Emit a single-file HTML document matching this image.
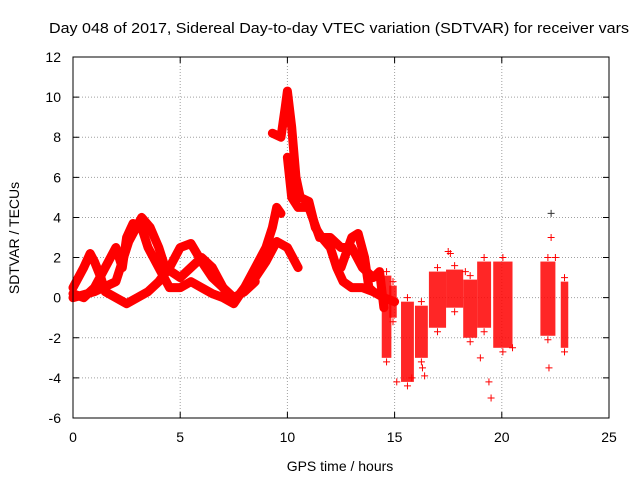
<!DOCTYPE html>
<html><head><meta charset="utf-8"><style>
body{margin:0;background:#fff}
svg{display:block;font-family:"Liberation Sans",sans-serif}
</style></head><body>
<svg id="chart" width="640" height="480">
<rect width="640" height="480" fill="#fff"/>
<text x="339" y="33" font-size="15" text-anchor="middle" textLength="580" lengthAdjust="spacingAndGlyphs">Day 048 of 2017, Sidereal Day-to-day VTEC variation (SDTVAR) for receiver vars</text>
<text x="340" y="471" font-size="14" text-anchor="middle">GPS time / hours</text>
<text x="19" y="238" font-size="14" text-anchor="middle" transform="rotate(-90 19 238)">SDTVAR / TECUs</text>
<g id="grid"></g><g id="marks"></g>
<rect x="73" y="57" width="536" height="361" fill="none" stroke="#000"/>
</svg>
<script>
const xTicks=[0,5,10,15,20,25];
const yTicks=[-6,-4,-2,0,2,4,6,8,10,12];
const track1=[[0,0.5],[0.5,1.5],[0.8,2.2],[1,1.8],[1.3,1],[1.5,0.3],[2,0],[2.5,-0.3],[3,0],[3.5,0.3],[4,0.8],[4.5,1.5],[5,2.5],[5.5,2.7],[6,1.8],[6.5,1],[7,0.5],[7.5,-0.2],[8,0.5],[8.5,1.5],[9,2.5],[9.3,3.5],[9.5,4.5],[9.7,4.2]];
const track2=[[0,0.2],[0.5,0],[1,0.5],[1.5,1.5],[2,2.5],[2.3,1.5],[2.5,3],[2.8,3.7],[3.2,3.5],[3.5,2.5],[4,1.5],[4.5,0.5],[5,0.5],[5.5,0.8],[6,0.5],[6.5,0.2],[7,0],[7.5,-0.3],[8,0.5],[8.5,1],[9,1.8],[9.5,2.8],[10,2.5],[10.5,1.5]];
const track3=[[0,0],[1,0.3],[2,0.8],[2.6,2.8],[3.2,4],[3.6,3.5],[4,2.5],[4.3,1.5],[5,1],[5.5,1.5],[6,2],[6.5,1.5],[7,0.5],[7.5,0],[8,0.3],[8.5,0.8]];
const track4=[[9.3,8.2],[9.7,8],[9.9,9.5],[10,10.3],[10.2,8.5],[10.4,6],[10.6,5],[11,4.8],[11.3,3.5],[11.6,3],[12,2.5],[12.3,1.5],[12.6,0.8],[13,0.5],[13.5,0.5],[14,0.3],[14.5,0],[15,-0.2]];
const track5=[[10,7],[10.2,5],[10.5,4.5],[11,4.5],[11.5,3],[12,3],[12.5,2.5],[13,2.5],[13.5,1.5],[14,1],[14.3,1.3],[14.5,-0.5]];
const track6=[[12.5,1.5],[13,3],[13.3,3.2],[13.6,2],[13.8,0.5],[14,0.3]];
const bandStart=[14.4,14.75,15.3,15.95,16.6,17.4,18.2,18.85,19.6,21.8,22.75];
const bandEnd=[14.85,15.1,15.9,16.55,17.4,18.2,18.85,19.5,20.5,22.5,23.1];
const bandLow=[-3,-1,-4.2,-3,-1.5,-0.5,-2,-1.5,-2.5,-1.9,-2.5];
const bandHigh=[1.1,0.6,-0.2,-0.4,1.3,1.4,0.9,1.8,1.8,1.8,0.8];
const outliers=[[15.8,-4],[15.1,-4.2],[19.5,-5],[19.4,-4.2],[22.2,-3.5],[17.5,2.3],[17.6,2.2],[22.3,4.2],[22.3,3],[22.5,2],[18.3,1.3],[16.3,-3.5],[20.5,-2.5],[19.0,-3],[16.4,-3.9]];
const NS="http://www.w3.org/2000/svg";
const X=t=>73+t*536/25, Y=v=>418-(v+6)*361/18;
const grid=document.getElementById('grid'), marks=document.getElementById('marks');
function mk(tag,attrs,parent){const e=document.createElementNS(NS,tag);for(const k in attrs)e.setAttribute(k,attrs[k]);parent.appendChild(e);return e;}
xTicks.forEach(t=>{
  if(t>0&&t<25){const l=mk('line',{x1:X(t),x2:X(t),y1:57,y2:418,stroke:'#a0a0a0','stroke-dasharray':'1,2'},grid);
  
  }
  const tk=mk('path',{d:`M${X(t)} 418v-6M${X(t)} 57v6`,stroke:'#000'},grid);
  
  
  const tx=mk('text',{x:X(t),y:442,'font-size':14,'text-anchor':'middle'},grid);tx.textContent=t;
  
  
});
yTicks.forEach(v=>{
  if(v>-6&&v<12){const l=mk('line',{x1:73,x2:609,y1:Y(v),y2:Y(v),stroke:'#a0a0a0','stroke-dasharray':'1,2'},grid);
  
  }
  const tk=mk('path',{d:`M73 ${Y(v)}h6M609 ${Y(v)}h-6`,stroke:'#000'},grid);
  
  
  const tx=mk('text',{x:61,y:Y(v)+5,'font-size':14,'text-anchor':'end'},grid);tx.textContent=v;
  
  
});
function cross(p,col,name){
  const c=mk('path',{d:`M${X(p[0])-3.5} ${Y(p[1])}h7M${X(p[0])} ${Y(p[1])-3.5}v7`,stroke:col,'stroke-width':1},marks);
  
  
}
const tracks=[track1,track2,track3,track4,track5,track6];
tracks.forEach((tr,i)=>{
  const pl=mk('polyline',{points:tr.map(p=>X(p[0])+','+Y(p[1])).join(' '),fill:'none',stroke:'#f00','stroke-width':9,'stroke-linejoin':'round','stroke-linecap':'round'},marks);
  
  
  tr.forEach(p=>cross(p,'#f00','sdtvar-point'));
});
bandStart.forEach((s,i)=>{
  const x0=X(s), x1=X(bandEnd[i]), y0=Y(bandHigh[i]), y1=Y(bandLow[i]);
  const r=mk('rect',{x:x0,y:y0,width:x1-x0,height:y1-y0,fill:'#f00','fill-opacity':0.85},marks);
  
  
  cross([(s+bandEnd[i])/2,bandLow[i]-0.2],'#f00','sdtvar-point');
  cross([(s+bandEnd[i])/2,bandHigh[i]+0.2],'#f00','sdtvar-point');
});
outliers.forEach((p,i)=>cross(p,i===7?'#333':'#f00','outlier-point'));
</script>
</body></html>
